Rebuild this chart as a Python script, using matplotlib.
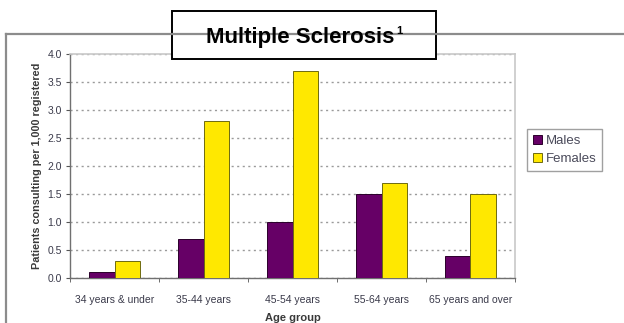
import matplotlib
matplotlib.use("Agg")
import matplotlib.pyplot as plt
import numpy as np
from matplotlib.patches import Rectangle
from matplotlib.lines import Line2D

plt.rcParams["font.family"] = ["Liberation Sans", "DejaVu Sans"]

age_groups = ["34 years & under", "35-44 years", "45-54 years", "55-64 years", "65 years and over"]
males = [0.1, 0.7, 1.0, 1.5, 0.4]
females = [0.3, 2.8, 3.7, 1.7, 1.5]

W, H = 624, 323
fig = plt.figure(figsize=(W / 100, H / 100), dpi=100)

# outer frame (top + left edges)
fig.add_artist(Line2D([6 / W, 1], [1 - 34 / H, 1 - 34 / H], transform=fig.transFigure,
                      color="#8c8c8c", lw=1.6))
fig.add_artist(Line2D([6 / W, 6 / W], [1 - 34 / H, 0], transform=fig.transFigure,
                      color="#8c8c8c", lw=1.6))

ax = fig.add_axes([70 / W, 1 - 278 / H, (515 - 70) / W, (278 - 54) / H])
x = np.arange(len(age_groups))
bw = 0.29
ax.bar(x - bw / 2, males, bw, color="#660066", edgecolor="#2a002a", lw=0.7, label="Males", zorder=3)
ax.bar(x + bw / 2, females, bw, color="#ffe800", edgecolor="#6e6a10", lw=0.7, label="Females", zorder=3)

ax.set_xlim(-0.5, len(age_groups) - 0.5)
ax.set_ylim(0, 4.0)
ax.set_yticks(np.arange(0, 4.01, 0.5))
ax.set_yticklabels([f"{v:.1f}" for v in np.arange(0, 4.01, 0.5)])
ax.yaxis.grid(True, linestyle=(0, (1.5, 2.5)), color="#9a9a9a", lw=1.0, zorder=0)
ax.set_xticks(x)
ax.set_xticklabels(age_groups)
ax.set_xticks(np.arange(-0.5, len(age_groups)), minor=True)
ax.tick_params(axis="x", which="major", length=0, pad=12, labelsize=7.5, labelcolor="#3a3a4a")
ax.tick_params(axis="x", which="minor", length=3, color="#555555", direction="out")
ax.tick_params(axis="y", length=3, color="#555555", labelsize=7.5, labelcolor="#3a3a4a", pad=3)

for s in ["left", "bottom"]:
    ax.spines[s].set_color("#707070")
    ax.spines[s].set_linewidth(1.0)
for s in ["top", "right"]:
    ax.spines[s].set_color("#c8c8c8")
    ax.spines[s].set_linewidth(1.2)

ax.set_xlabel("Age group", fontsize=8, fontweight="bold", color="#3a3a3a", labelpad=6)
ax.set_ylabel("Patients consulting per 1,000 registered", fontsize=7.8, fontweight="bold",
              color="#3a3a3a", labelpad=4)

leg = ax.legend(loc="upper left", bbox_to_anchor=(527 / W, 1 - 129 / H), bbox_transform=fig.transFigure,
                fontsize=9.5, frameon=True, fancybox=False, handlelength=0.7, handleheight=0.7,
                handletextpad=0.25, borderpad=0.45, labelspacing=0.45, borderaxespad=0)
leg.get_frame().set_edgecolor("#888888")
leg.get_frame().set_linewidth(1.0)
for t in leg.get_texts():
    t.set_color("#4a4a5a")

# title box
fig.add_artist(Rectangle((172 / W, 1 - 59 / H), (436 - 172) / W, (59 - 11) / H,
                         transform=fig.transFigure, facecolor="white", edgecolor="black", lw=1.4))
title = fig.text(300 / W, 1 - 38 / H, "Multiple Sclerosis", ha="center", va="center",
                 fontsize=16, fontweight="bold")
fig.canvas.draw()
bb = title.get_window_extent()
fig.text((bb.x1 + 2) / W, (bb.y1 + 1) / H, "1", ha="left", va="top", fontsize=8, fontweight="bold")

fig.savefig("out.png", dpi=100)
